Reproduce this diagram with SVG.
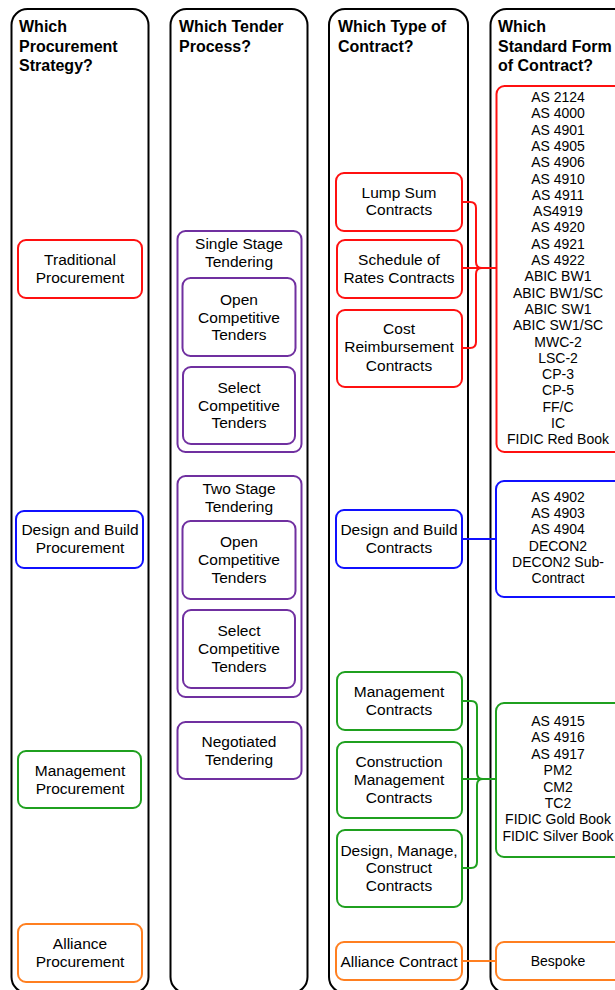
<svg xmlns="http://www.w3.org/2000/svg" width="615" height="990" viewBox="0 0 615 990">
<style>
.col{fill:#fff;stroke:#000;stroke-width:2}
.hd{font-family:"Liberation Sans",Arial,sans-serif;font-size:16px;font-weight:bold;fill:#000}
.t{font-family:"Liberation Sans",Arial,sans-serif;font-size:15.5px;fill:#000;text-anchor:middle}
.s{font-family:"Liberation Sans",Arial,sans-serif;font-size:14px;fill:#000;text-anchor:middle}
.n{fill:#fff;stroke-width:2}
.red{stroke:#ff1010}
.blue{stroke:#1010ff}
.green{stroke:#1fa01f}
.orange{stroke:#ff7f20}
.purple{stroke:#7030a0}
.c{fill:none;stroke-width:2}
</style>
<rect width="615" height="990" fill="#fff"/>
<g id="columns">
<rect class="col" x="11.5" y="9" width="137" height="984" rx="16"/>
<rect class="col" x="170.5" y="9" width="137" height="984" rx="16"/>
<rect class="col" x="329" y="9" width="139" height="984" rx="16"/>
<rect class="col" x="490.5" y="9" width="160" height="984" rx="16"/>
<text class="hd" x="19" y="32">Which</text>
<text class="hd" x="19" y="51.5">Procurement</text>
<text class="hd" x="19" y="71">Strategy?</text>
<text class="hd" x="179" y="32">Which Tender</text>
<text class="hd" x="179" y="51.5">Process?</text>
<text class="hd" x="338" y="32">Which Type of</text>
<text class="hd" x="338" y="51.5">Contract?</text>
<text class="hd" x="498" y="32">Which</text>
<text class="hd" x="498" y="51.5">Standard Form</text>
<text class="hd" x="498" y="71">of Contract?</text>
</g>
<g id="connectors">
<path class="c red" d="M462,268 H497 M462,202 H470 Q476,202 476,208 V262 Q476,268 482,268 M462,348 H470 Q476,348 476,342 V274 Q476,268 482,268"/>
<path class="c blue" d="M462,539 H497"/>
<path class="c green" d="M462,779 H497 M462,701 H471 Q477,701 477,707 V773 Q477,779 483,779 M462,868 H471 Q477,868 477,862 V785 Q477,779 483,779"/>
<path class="c orange" d="M462,961 H497"/>
</g>
<g id="traditional-procurement"><rect class="n red" x="18" y="240" width="124" height="58" rx="8"/><text class="t" x="80" y="264.5">Traditional</text><text class="t" x="80" y="282.5">Procurement</text></g>
<g id="db-procurement"><rect class="n blue" x="16" y="511" width="127" height="57" rx="8"/><text class="t" x="80" y="534.5">Design and Build</text><text class="t" x="80" y="552.5">Procurement</text></g>
<g id="management-procurement"><rect class="n green" x="18" y="751" width="123" height="57" rx="8"/><text class="t" x="80" y="775.5">Management</text><text class="t" x="80" y="793.5">Procurement</text></g>
<g id="alliance-procurement"><rect class="n orange" x="18" y="924" width="124" height="58" rx="8"/><text class="t" x="80" y="948.5">Alliance</text><text class="t" x="80" y="966.5">Procurement</text></g>

<g id="single-stage"><rect class="n purple" x="177.5" y="231" width="124" height="221" rx="8"/><text class="t" x="239" y="248.5">Single Stage</text><text class="t" x="239" y="266.5">Tendering</text></g>
<g id="single-open"><rect class="n purple" x="182.5" y="278" width="113" height="78" rx="8"/><text class="t" x="239" y="304.5">Open</text><text class="t" x="239" y="322.5">Competitive</text><text class="t" x="239" y="340">Tenders</text></g>
<g id="single-select"><rect class="n purple" x="183" y="367" width="112" height="77" rx="8"/><text class="t" x="239" y="392.5">Select</text><text class="t" x="239" y="410.5">Competitive</text><text class="t" x="239" y="428">Tenders</text></g>
<g id="two-stage"><rect class="n purple" x="177.5" y="476" width="124" height="221" rx="8"/><text class="t" x="239" y="493.5">Two Stage</text><text class="t" x="239" y="511.5">Tendering</text></g>
<g id="two-open"><rect class="n purple" x="182.5" y="521" width="113" height="78" rx="8"/><text class="t" x="239" y="546.5">Open</text><text class="t" x="239" y="564.5">Competitive</text><text class="t" x="239" y="582.5">Tenders</text></g>
<g id="two-select"><rect class="n purple" x="183" y="610" width="112" height="78" rx="8"/><text class="t" x="239" y="635.5">Select</text><text class="t" x="239" y="653.5">Competitive</text><text class="t" x="239" y="671.5">Tenders</text></g>
<g id="negotiated"><rect class="n purple" x="177.5" y="722" width="124" height="57" rx="8"/><text class="t" x="239" y="746.5">Negotiated</text><text class="t" x="239" y="764.5">Tendering</text></g>

<g id="lump-sum"><rect class="n red" x="336" y="173" width="126" height="58" rx="8"/><text class="t" x="399" y="197.5">Lump Sum</text><text class="t" x="399" y="215">Contracts</text></g>
<g id="schedule-rates"><rect class="n red" x="337" y="240" width="125" height="58" rx="8"/><text class="t" x="399" y="264.5">Schedule of</text><text class="t" x="399" y="282.5">Rates Contracts</text></g>
<g id="cost-reimbursement"><rect class="n red" x="337" y="310" width="125" height="77" rx="8"/><text class="t" x="399" y="333.5">Cost</text><text class="t" x="399" y="352">Reimbursement</text><text class="t" x="399" y="370.5">Contracts</text></g>
<g id="db-contracts"><rect class="n blue" x="336" y="510" width="126" height="58" rx="8"/><text class="t" x="399" y="534.5">Design and Build</text><text class="t" x="399" y="552.5">Contracts</text></g>
<g id="management-contracts"><rect class="n green" x="337" y="672" width="125" height="58" rx="8"/><text class="t" x="399" y="696.5">Management</text><text class="t" x="399" y="714.5">Contracts</text></g>
<g id="cm-contracts"><rect class="n green" x="337" y="742" width="125" height="76" rx="8"/><text class="t" x="399" y="766.5">Construction</text><text class="t" x="399" y="784.5">Management</text><text class="t" x="399" y="802.5">Contracts</text></g>
<g id="dmc-contracts"><rect class="n green" x="337" y="830" width="125" height="77" rx="8"/><text class="t" x="399" y="855.5">Design, Manage,</text><text class="t" x="399" y="873">Construct</text><text class="t" x="399" y="890.5">Contracts</text></g>
<g id="alliance-contract"><rect class="n orange" x="336" y="942" width="126" height="38" rx="8"/><text class="t" x="399" y="966.5">Alliance Contract</text></g>

<g id="forms-traditional"><rect class="n red" x="496.5" y="86" width="140" height="366" rx="8"/>
<text class="s" x="558" y="102">AS 2124</text>
<text class="s" x="558" y="118.3">AS 4000</text>
<text class="s" x="558" y="134.6">AS 4901</text>
<text class="s" x="558" y="150.9">AS 4905</text>
<text class="s" x="558" y="167.2">AS 4906</text>
<text class="s" x="558" y="183.5">AS 4910</text>
<text class="s" x="558" y="199.8">AS 4911</text>
<text class="s" x="558" y="216.1">AS4919</text>
<text class="s" x="558" y="232.4">AS 4920</text>
<text class="s" x="558" y="248.7">AS 4921</text>
<text class="s" x="558" y="265">AS 4922</text>
<text class="s" x="558" y="281.3">ABIC BW1</text>
<text class="s" x="558" y="297.6">ABIC BW1/SC</text>
<text class="s" x="558" y="313.9">ABIC SW1</text>
<text class="s" x="558" y="330.2">ABIC SW1/SC</text>
<text class="s" x="558" y="346.5">MWC-2</text>
<text class="s" x="558" y="362.8">LSC-2</text>
<text class="s" x="558" y="379.1">CP-3</text>
<text class="s" x="558" y="395.4">CP-5</text>
<text class="s" x="558" y="411.7">FF/C</text>
<text class="s" x="558" y="428">IC</text>
<text class="s" x="558" y="444.3">FIDIC Red Book</text>
</g>
<g id="forms-db"><rect class="n blue" x="496" y="481" width="140" height="116" rx="8"/>
<text class="s" x="558" y="502">AS 4902</text>
<text class="s" x="558" y="518.2">AS 4903</text>
<text class="s" x="558" y="534.4">AS 4904</text>
<text class="s" x="558" y="550.6">DECON2</text>
<text class="s" x="558" y="566.8">DECON2 Sub-</text>
<text class="s" x="558" y="583">Contract</text>
</g>
<g id="forms-management"><rect class="n green" x="496" y="703" width="140" height="154" rx="8"/>
<text class="s" x="558" y="726">AS 4915</text>
<text class="s" x="558" y="742.4">AS 4916</text>
<text class="s" x="558" y="758.8">AS 4917</text>
<text class="s" x="558" y="775.2">PM2</text>
<text class="s" x="558" y="791.6">CM2</text>
<text class="s" x="558" y="808">TC2</text>
<text class="s" x="558" y="824.4">FIDIC Gold Book</text>
<text class="s" x="558" y="840.8">FIDIC Silver Book</text>
</g>
<g id="forms-alliance"><rect class="n orange" x="496" y="942" width="140" height="38" rx="8"/><text class="s" x="558" y="966">Bespoke</text></g>
</svg>
